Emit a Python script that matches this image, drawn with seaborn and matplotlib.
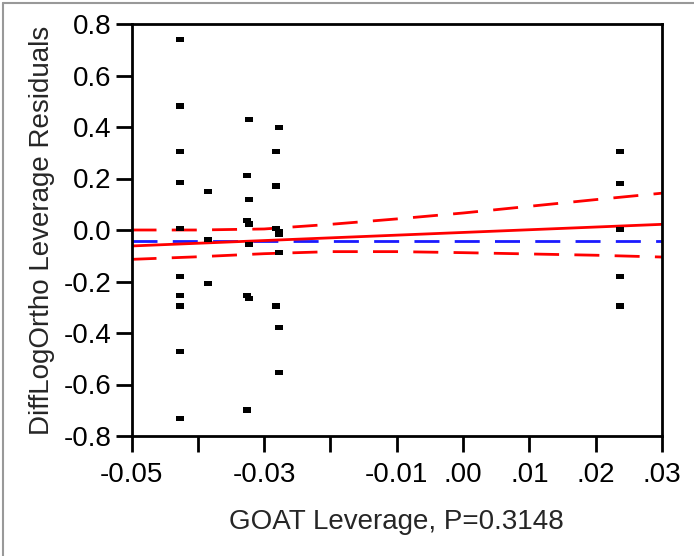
import matplotlib
matplotlib.use("Agg")
import matplotlib.pyplot as plt
import pandas as pd
import seaborn as sns
from matplotlib.lines import Line2D

# leverage residuals, grouped by leverage column
lev_x = (
    [-0.04271] * 10
    + [-0.03841] * 3
    + [-0.03229, -0.03264, -0.03229, -0.03264, -0.03229, -0.03229, -0.03264, -0.03229, -0.03264]
    + [-0.02781, -0.02826, -0.02826, -0.02826, -0.02781, -0.02781, -0.02781, -0.02826, -0.02781, -0.02781]
    + [0.02366] * 5
)
resid = (
    [0.741, 0.482, 0.304, 0.183, 0.007, -0.181, -0.255, -0.295, -0.472, -0.731]
    + [0.149, -0.036, -0.207]
    + [0.428, 0.211, 0.118, 0.036, 0.023, -0.056, -0.255, -0.265, -0.699]
    + [0.397, 0.304, 0.171, 0.007, -0.007, -0.017, -0.088, -0.295, -0.378, -0.554]
    + [0.304, 0.181, 0.003, -0.181, -0.295]
)

# fit line, mean line and confidence curves
fit_x = [-0.05, 0.03]
fit_y = [-0.062, 0.022]
mean_y = -0.042
band_x = [-0.05, -0.04, -0.03, -0.02, -0.01, 0.0, 0.01, 0.02, 0.03]
band_upper = [0.0, 0.0, 0.004, 0.022, 0.043, 0.066, 0.092, 0.118, 0.143]
band_lower = [-0.114, -0.104, -0.092, -0.084, -0.084, -0.088, -0.093, -0.098, -0.105]

x_ticks = [-0.05, -0.04, -0.03, -0.02, -0.01, 0.0, 0.01, 0.02, 0.03]
x_ticklabels = ["-0.05", "", "-0.03", "", "-0.01", ".00", ".01", ".02", ".03"]
y_ticks = [-0.8, -0.6, -0.4, -0.2, 0.0, 0.2, 0.4, 0.6, 0.8]

sns.set_style("white")
plt.rcParams["font.family"] = ["Liberation Sans", "DejaVu Sans"]

fig = plt.figure(figsize=(6.94, 5.56), dpi=100)
ax = fig.add_axes([131.5 / 694, 1 - 436 / 556, 530.5 / 694, 412 / 556])

pts = pd.DataFrame({"x": lev_x, "y": resid})
rect = [(-1.5, -1.0), (1.5, -1.0), (1.5, 1.0), (-1.5, 1.0)]
sns.scatterplot(data=pts, x="x", y="y", marker=rect, s=32, color="black",
                edgecolor="none", ax=ax, zorder=3)

dash = (0, (9, 5.5))
sns.lineplot(x=[-0.05, 0.03], y=[mean_y, mean_y], color="#1a1aff", lw=2,
             ls=dash, ax=ax, zorder=2)
sns.lineplot(x=band_x, y=band_upper, color="#ff0000", lw=2, ls=dash, ax=ax, zorder=2)
sns.lineplot(x=band_x, y=band_lower, color="#ff0000", lw=2, ls=dash, ax=ax, zorder=2)
sns.lineplot(x=fit_x, y=fit_y, color="#ff0000", lw=2, ax=ax, zorder=2)

ax.set_xlim(-0.05, 0.03)
ax.set_ylim(-0.8, 0.8)
ax.set_xticks(x_ticks)
ax.set_xticklabels(x_ticklabels)
ax.set_yticks(y_ticks)
ax.set_yticklabels([f"{v:.1f}" for v in y_ticks])
ax.tick_params(direction="out", length=11.5, width=2, colors="black",
               labelsize=20, bottom=True, left=True)
ax.tick_params(axis="x", pad=7)
ax.tick_params(axis="y", pad=3)
for sp in ax.spines.values():
    sp.set_color("black")
    sp.set_linewidth(2)

ax.set_xlabel("GOAT Leverage, P=0.3148", fontsize=20, labelpad=15)
ax.set_ylabel("DiffLogOrtho Leverage Residuals", fontsize=20, labelpad=6)

# grey outer frame (partly cropped in the source)
fig.add_artist(Line2D([3 / 694, 3 / 694], [0, 1 - 3 / 556], color="#999999", lw=1.5))
fig.add_artist(Line2D([3 / 694, 1], [1 - 3 / 556, 1 - 3 / 556], color="#999999", lw=1.5))

fig.savefig("out.png", dpi=100)
